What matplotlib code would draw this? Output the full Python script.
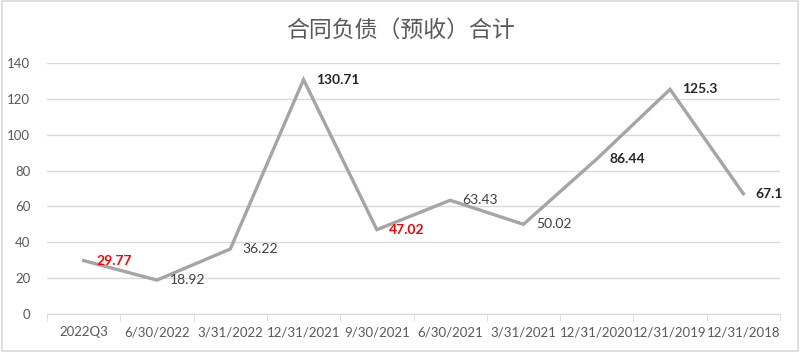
import matplotlib.pyplot as plt
import numpy as np
from matplotlib.patches import Rectangle

plt.rcParams['font.family'] = ['Lato', 'Noto Sans CJK SC', 'DejaVu Sans']

# data
periods = ['2022Q3', '6/30/2022', '3/31/2022', '12/31/2021', '9/30/2021',
           '6/30/2021', '3/31/2021', '12/31/2020', '12/31/2019', '12/31/2018']
values = [29.77, 18.92, 36.22, 130.71, 47.02, 63.43, 50.02, 86.44, 125.3, 67.1]
label_texts = ['29.77', '18.92', '36.22', '130.71', '47.02', '63.43', '50.02', '86.44', '125.3', '67.1']
# label style per point: 'red', 'bold' or 'plain'
label_styles = ['red', 'plain', 'plain', 'bold', 'red', 'plain', 'plain', 'bold', 'bold', 'bold']

fig = plt.figure(figsize=(8, 3.52), dpi=100)
ax = fig.add_axes([0.05875, 0.108, 0.91625, 0.713])

x = np.arange(len(periods))
ax.plot(x, values, color='#A5A5A5', linewidth=2.4, solid_joinstyle='miter', zorder=3)

style_map = {
    'red': dict(color='#FF0000', fontweight='bold'),
    'bold': dict(color='#262626', fontweight='bold'),
    'plain': dict(color='#404040', fontweight='normal'),
}
for xi, v, txt, st in zip(x, values, label_texts, label_styles):
    ax.annotate(txt, xy=(xi, v), xytext=(9, 0), textcoords='offset points',
                ha='left', va='center', fontsize=10, **style_map[st], zorder=4)

ax.set_xlim(-0.5, len(periods) - 0.5)
ax.set_ylim(0, 140)
ax.set_yticks(np.arange(0, 141, 20))
ax.yaxis.grid(True, color='#D9D9D9', linewidth=1)
ax.set_axisbelow(True)

ax.set_xticks(x)
ax.set_xticklabels(periods)
ax.set_xticks(np.arange(-0.5, len(periods), 1), minor=True)
ax.tick_params(axis='x', which='major', length=0, pad=9, labelsize=9.5, labelcolor='#595959')
ax.tick_params(axis='x', which='minor', length=5, color='#D9D9D9', direction='out')
ax.tick_params(axis='y', length=0, pad=12, labelsize=9.5, labelcolor='#595959')

for side in ['top', 'right', 'left']:
    ax.spines[side].set_visible(False)
ax.spines['bottom'].set_color('#D9D9D9')

fig.text(0.5, 0.915, '合同负债（预收）合计', ha='center', va='center', fontsize=16.5,
         color='#595959', family=['Noto Sans CJK SC', 'DejaVu Sans'])

fig.patches.append(Rectangle((0.002, 0.003), 0.996, 0.994, transform=fig.transFigure,
                             fill=False, edgecolor='#D9D9D9', linewidth=1.2))

fig.savefig('out.png', dpi=100)
